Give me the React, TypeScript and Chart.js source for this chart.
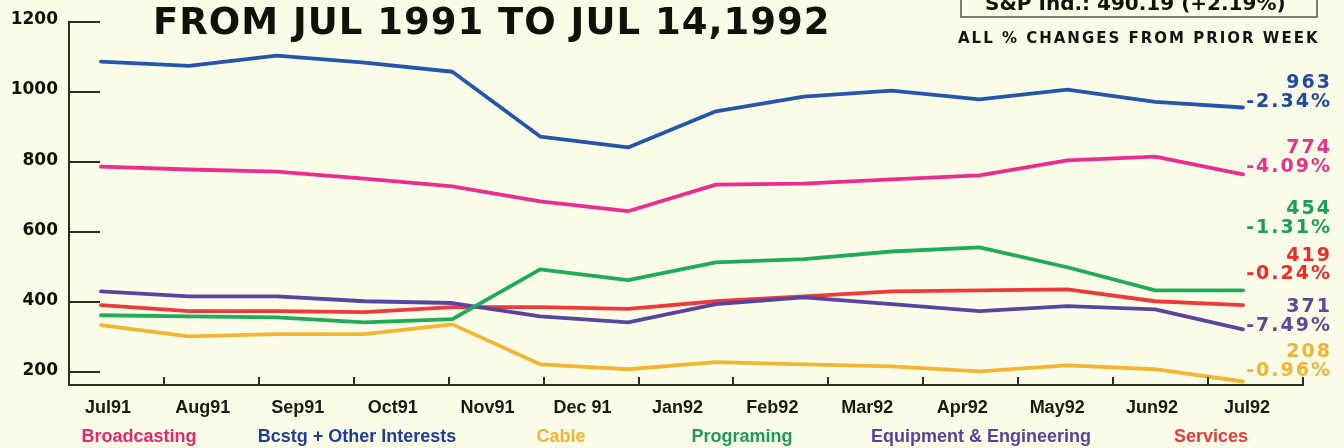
import React, { useEffect, useRef } from 'react';
import { Chart, registerables } from 'chart.js';

Chart.register(...registerables);

// ---- data ----
const periods = ['Jul91', 'Aug91', 'Sep91', 'Oct91', 'Nov91', 'Dec91', 'Jan92', 'Feb92', 'Mar92', 'Apr92', 'May92', 'Jun92', 'Jul92', 'Jul14 92'];
const monthLabels = ['Jul91', 'Aug91', 'Sep91', 'Oct91', 'Nov91', 'Dec 91', 'Jan92', 'Feb92', 'Mar92', 'Apr92', 'May92', 'Jun92', 'Jul92'];
const seriesNames = ['Broadcasting', 'Bcstg + Other Interests', 'Cable', 'Programing', 'Equipment & Engineering', 'Services'];

const broadcasting = [787, 779, 773, 753, 731, 688, 660, 736, 739, 751, 762, 805, 816, 765];
const bcstgOther = [1087, 1075, 1104, 1084, 1058, 873, 842, 945, 987, 1004, 979, 1007, 972, 956];
const cable = [335, 303, 309, 309, 337, 223, 209, 229, 223, 217, 203, 220, 209, 174];
const programing = [363, 360, 357, 343, 352, 494, 463, 514, 523, 545, 557, 500, 434, 434];
const equipment = [431, 417, 417, 403, 398, 360, 343, 395, 414, 395, 375, 389, 380, 323];
const services = [392, 375, 375, 372, 386, 386, 381, 403, 417, 431, 434, 437, 403, 392];

const yTicks = [200, 400, 600, 800, 1000, 1200];

const endValues = ['963', '774', '454', '419', '371', '208'];
const endChanges = ['-2.34%', '-4.09%', '-1.31%', '-0.24%', '-7.49%', '-0.96%'];

const titleText = 'FROM JUL 1991 TO JUL 14,1992';
const indexText = 'S&P Ind.: 490.19 (+2.19%)';
const noteText = 'ALL % CHANGES FROM PRIOR WEEK';

// ---- styles ----
const BG = '#fcfde8';
const AXIS = '#2d2d22';
const lineColors = ['#ec2c8e', '#2456ad', '#f2b632', '#1fab58', '#5a44a2', '#ee3a3a'];
const legendColors = ['#e8266e', '#1f3c99', '#f2b236', '#1e9a5a', '#56439b', '#e93a3a'];
// end labels: blue, pink, green, red, purple, orange
const endColors = ['#1f4aa0', '#e8318a', '#1aa058', '#ee2a2a', '#5c4a96', '#f2b233'];
const endValueY = [88, 153, 214, 261, 312, 357];
const endChangeY = [107, 172, 233, 279, 331, 376];
const legendX = [139, 357, 561, 742, 981, 1211];

const decor = {
  id: 'decor',
  beforeDraw(chart: any) {
    const { ctx, width, height } = chart;
    ctx.save();
    ctx.fillStyle = BG;
    ctx.fillRect(0, 0, width, height);
    ctx.restore();
  },
  afterDraw(chart: any) {
    const { ctx, chartArea: ca, scales } = chart;
    ctx.save();
    // y tick marks (inside)
    ctx.strokeStyle = AXIS;
    ctx.lineWidth = 2;
    yTicks.forEach((v) => {
      const y = Math.round(scales.y.getPixelForValue(v));
      ctx.beginPath();
      ctx.moveTo(ca.left, y);
      ctx.lineTo(ca.left + 31, y);
      ctx.stroke();
    });
    // x tick marks (upward)
    for (let k = 0; k <= 12; k++) {
      const x = Math.round(scales.xm.getPixelForValue(k + 0.59));
      ctx.beginPath();
      ctx.moveTo(x, ca.bottom);
      ctx.lineTo(x, ca.bottom - 8);
      ctx.stroke();
    }

    // title
    ctx.fillStyle = '#111108';
    ctx.font = 'bold 37px "DejaVu Sans", sans-serif';
    (ctx as any).letterSpacing = '1px';
    ctx.textAlign = 'left';
    ctx.textBaseline = 'alphabetic';
    ctx.fillText(titleText, 153, 34);

    // index box (cut at the top)
    (ctx as any).letterSpacing = '0px';
    ctx.font = 'bold 20px "DejaVu Sans", sans-serif';
    ctx.fillText(indexText, 985, 10);
    ctx.strokeStyle = '#555548';
    ctx.lineWidth = 1.5;
    ctx.strokeRect(961, -10, 356, 27);

    // note
    ctx.fillStyle = '#141410';
    ctx.font = 'bold 15px "DejaVu Sans", sans-serif';
    (ctx as any).letterSpacing = '2px';
    ctx.fillText(noteText, 958, 43);

    // end labels
    ctx.textAlign = 'right';
    ctx.font = 'bold 19px "DejaVu Sans", sans-serif';
    (ctx as any).letterSpacing = '2px';
    endValues.forEach((t, i) => {
      ctx.fillStyle = endColors[i];
      ctx.fillText(t, 1332, endValueY[i]);
      ctx.fillText(endChanges[i], 1332, endChangeY[i]);
    });

    // legend
    (ctx as any).letterSpacing = '0px';
    ctx.textAlign = 'center';
    ctx.font = 'bold 18px "Liberation Sans", Arial, sans-serif';
    seriesNames.forEach((n, i) => {
      ctx.fillStyle = legendColors[i];
      ctx.fillText(n, legendX[i], 442);
    });
    ctx.restore();
  },
};

export default function App() {
  const ref = useRef<HTMLCanvasElement>(null);
  useEffect(() => {
    document.body.style.margin = '0';
    document.body.style.background = BG;
    const seriesData = [broadcasting, bcstgOther, cable, programing, equipment, services];
    const chart = new Chart(ref.current as HTMLCanvasElement, {
      type: 'line',
      data: {
        datasets: seriesData.map((arr, s) => ({
          label: seriesNames[s],
          data: arr.map((v, i) => ({ x: periods.indexOf(periods[i]), y: v })),
          borderColor: lineColors[s],
          backgroundColor: lineColors[s],
          borderWidth: 3.8,
          pointRadius: 0,
          tension: 0,
          borderJoinStyle: 'round',
          borderCapStyle: 'round',
          xAxisID: 'x',
          yAxisID: 'y',
        })),
      },
      options: {
        responsive: false,
        devicePixelRatio: 1,
        animation: false,
        layout: { padding: { top: 22, right: 41, left: 0, bottom: 0 } },
        plugins: {
          legend: { display: false },
          tooltip: { enabled: false },
          title: { display: false },
        },
        scales: {
          x: { type: 'linear', display: false, min: -0.364, max: 13.683 },
          xm: {
            type: 'linear',
            position: 'bottom',
            min: -0.41,
            max: 12.59,
            afterBuildTicks: (s: any) => {
              s.ticks = monthLabels.map((_, i) => ({ value: i }));
            },
            afterFit: (s: any) => {
              s.height = 63;
            },
            grid: { display: false, drawTicks: false },
            border: { display: true, color: AXIS, width: 2 },
            ticks: {
              autoSkip: false,
              maxRotation: 0,
              padding: 12,
              color: '#1a1a10',
              font: { family: '"Liberation Sans", Arial, sans-serif', weight: 'bold', size: 18 },
              callback: (v: any) => monthLabels[v] ?? '',
            },
          },
          y: {
            type: 'linear',
            min: 164,
            max: 1200,
            afterBuildTicks: (s: any) => {
              s.ticks = yTicks.map((v) => ({ value: v }));
            },
            afterFit: (s: any) => {
              s.width = 69;
            },
            grid: { display: false, drawTicks: false },
            border: { display: true, color: AXIS, width: 2 },
            ticks: {
              padding: 11,
              labelOffset: -2,
              color: '#111108',
              font: { family: '"DejaVu Sans", sans-serif', weight: 'bold', size: 17 },
              callback: (v: any) => String(v),
            },
          },
        },
      } as any,
      plugins: [decor],
    });
    return () => chart.destroy();
  }, []);
  return (
    <div style={{ position: 'absolute', left: 0, top: 0, width: 1344, height: 448 }}>
      <canvas ref={ref} width={1344} height={448} style={{ display: 'block', width: 1344, height: 448 }} />
    </div>
  );
}
